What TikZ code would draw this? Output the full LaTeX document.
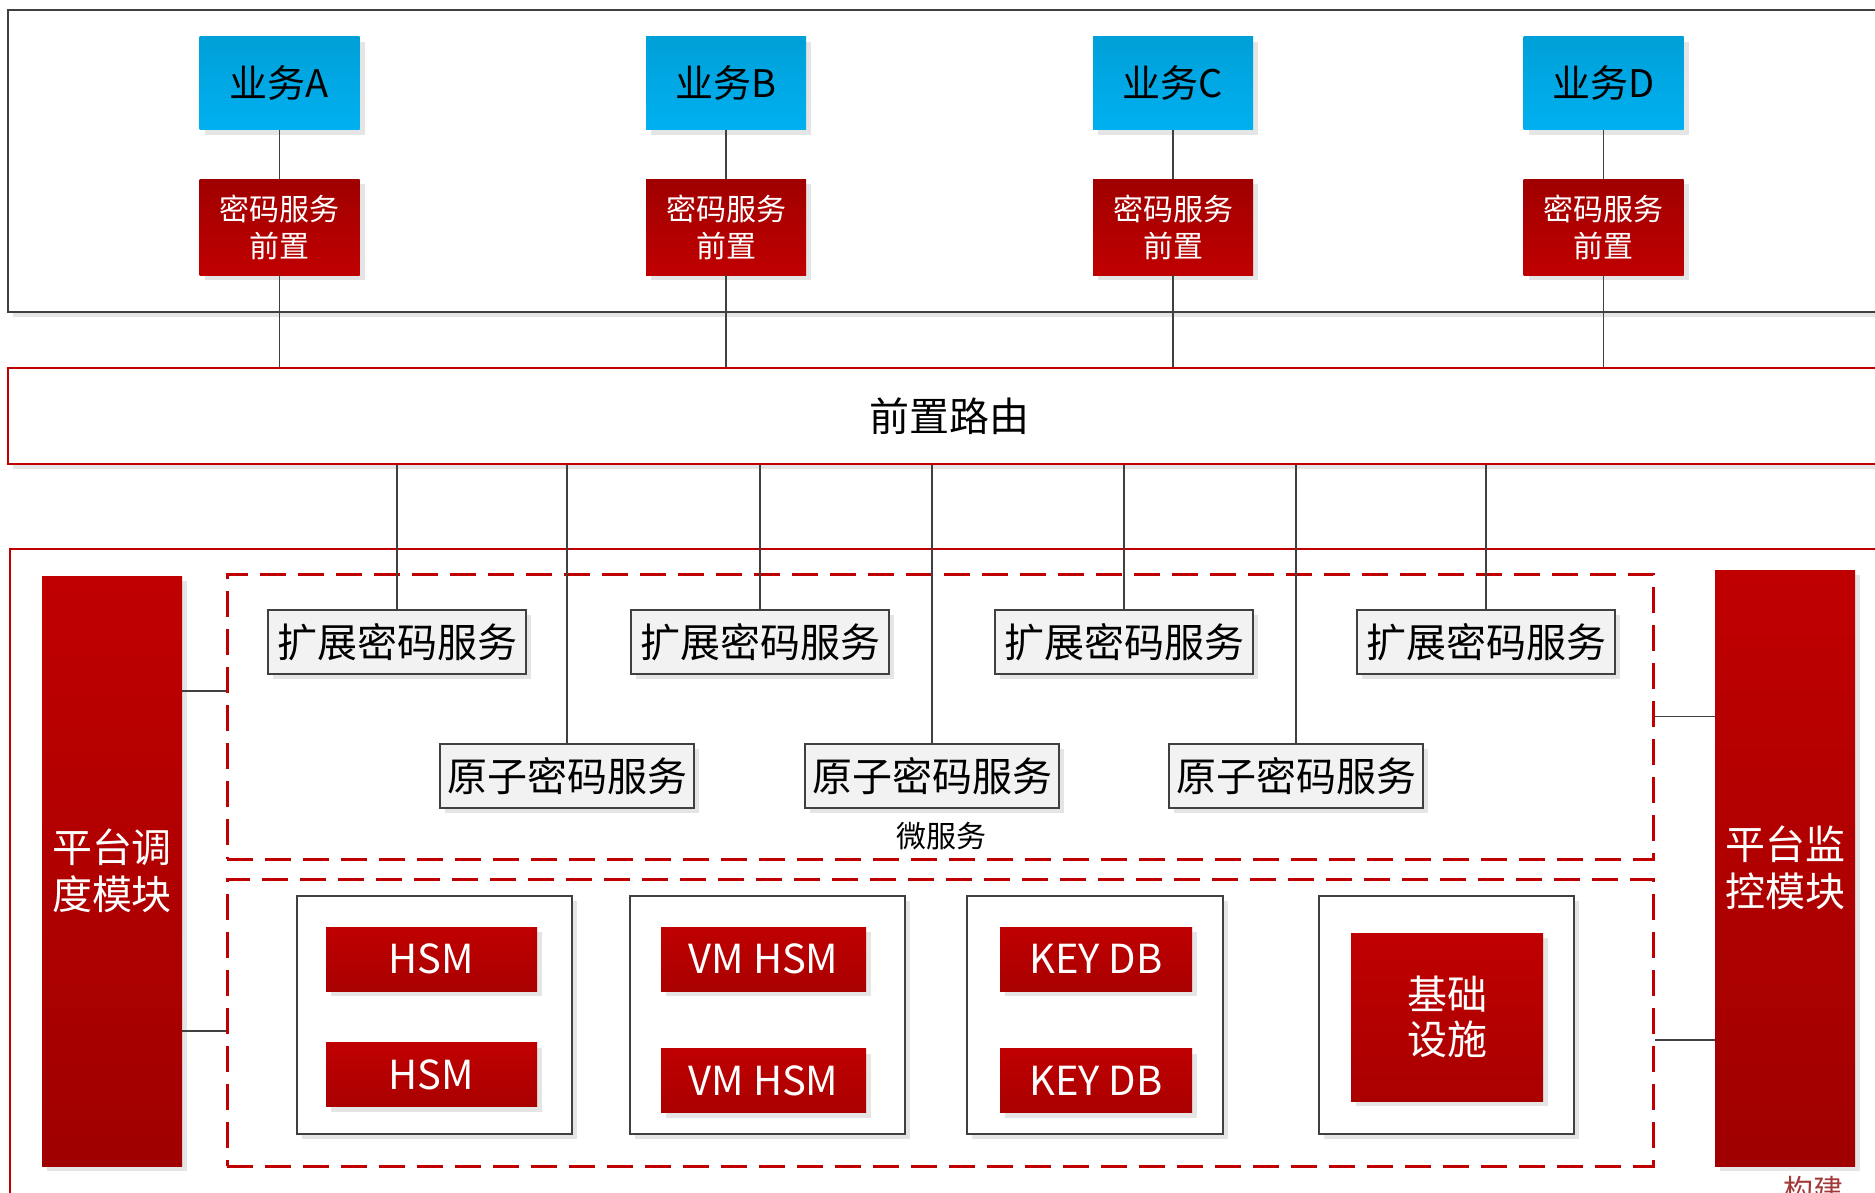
\documentclass[tikz,border=0pt]{standalone}
\usepackage{fontspec}
\setmainfont{Noto Sans CJK SC}
\usetikzlibrary{shadows}
\definecolor{rosso}{HTML}{C00000}
\definecolor{rossoscuro}{HTML}{A00000}
\definecolor{azzurro}{HTML}{00B0F0}
\definecolor{azzurroscuro}{HTML}{00A0D8}
\definecolor{grigio}{HTML}{404040}
\definecolor{grigiochiaro}{HTML}{F2F2F2}
\definecolor{marrone}{HTML}{A33A3A}
\begin{document}
\begin{tikzpicture}[x=1pt,y=-1pt,
    ombra/.style={drop shadow={shadow xshift=5pt,shadow yshift=-5pt,fill=black!10,opacity=1}},
    filo/.style={draw=grigio,line width=1.8pt},
    fascia/.style={draw=grigio,line width=1.5pt,fill=white,ombra,inner sep=0pt},
    cornice/.style={draw=rosso,line width=2.2pt,fill=white,ombra,inner sep=0pt},
    tratteggio/.style={draw=rosso,line width=3pt,dash pattern=on 26pt off 12pt,inner sep=0pt},
    yewu/.style={ombra,top color=azzurroscuro,bottom color=azzurro,minimum width=160pt,minimum height=93pt,inner sep=0pt,font=\fontsize{38}{44}\selectfont},
    qianzhi/.style={ombra,top color=rossoscuro,bottom color=rosso,text=white,minimum width=160pt,minimum height=96pt,inner sep=0pt,align=center,font=\fontsize{30}{37}\selectfont},
    servizio/.style={ombra,draw=grigio,line width=1.5pt,fill=grigiochiaro,minimum height=64pt,inner sep=0pt,font=\fontsize{40}{44}\selectfont},
    modulo/.style={ombra,top color=rosso,bottom color=rossoscuro,text=white,minimum width=140pt,inner sep=0pt,align=center,font=\fontsize{40}{47}\selectfont},
    cassa/.style={ombra,draw=grigio,line width=1.8pt,fill=white,minimum height=238pt,inner sep=0pt},
    hsm/.style={ombra,top color=rosso,bottom color=rosso!88!black,text=white,minimum height=64pt,inner sep=0pt,align=center,font=\fontsize{40}{45}\selectfont}]
    \useasboundingbox (0,0) rectangle (1875,1192);
    \clip (0,0) rectangle (1875,1192);
    \fill[white] (0,0) rectangle (1875,1192);

    % riquadri grandi
    \node[fascia,minimum width=1882pt,minimum height=302pt] (sopra) at (949,161) {};
    \node[cornice,minimum width=1882pt,minimum height=96pt,font=\fontsize{40}{44}\selectfont] (lu) at (949,416) {前置路由};
    \node[cornice,minimum width=1880pt,minimum height=661pt] (pt) at (950,879.5) {};

    %业务 e 前置
    \node[yewu] (ywA) at (279.5,83) {业务A};
    \node[yewu] (ywB) at (726,83) {业务B};
    \node[yewu] (ywC) at (1173,83) {业务C};
    \node[yewu] (ywD) at (1603.5,83) {业务D};
    \node[qianzhi] (qzA) at (279.5,227) {密码服务\\前置};
    \node[qianzhi] (qzB) at (726,227) {密码服务\\前置};
    \node[qianzhi] (qzC) at (1173,227) {密码服务\\前置};
    \node[qianzhi] (qzD) at (1603.5,227) {密码服务\\前置};
    \draw[filo] (ywA) -- (qzA);
    \draw[filo] (ywB) -- (qzB);
    \draw[filo] (ywC) -- (qzC);
    \draw[filo] (ywD) -- (qzD);
    \draw[filo] (qzA) -- (qzA |- lu.north);
    \draw[filo] (qzB) -- (qzB |- lu.north);
    \draw[filo] (qzC) -- (qzC |- lu.north);
    \draw[filo] (qzD) -- (qzD |- lu.north);

    % moduli laterali e zone tratteggiate
    \node[modulo,minimum height=590pt] (dd) at (112,871) {平台调\\度模块};
    \node[modulo,minimum height=596pt] (jk) at (1785,868) {平台监\\控模块};
    \node[tratteggio,minimum width=1426pt,minimum height=285pt] (wfw) at (940,716.5) {};
    \node[tratteggio,minimum width=1426pt,minimum height=287pt] (jc) at (940,1022.5) {};
    \node[font=\fontsize{30}{34}\selectfont] (wfwlab) at (941,836) {微服务};

    % microservizi
    \node[servizio,minimum width=258pt] (kz1) at (397,642) {扩展密码服务};
    \node[servizio,minimum width=258pt] (kz2) at (760,642) {扩展密码服务};
    \node[servizio,minimum width=258pt] (kz3) at (1124,642) {扩展密码服务};
    \node[servizio,minimum width=258pt] (kz4) at (1486,642) {扩展密码服务};
    \node[servizio,minimum width=254pt] (yz1) at (567,776) {原子密码服务};
    \node[servizio,minimum width=254pt] (yz2) at (932,776) {原子密码服务};
    \node[servizio,minimum width=254pt] (yz3) at (1296,776) {原子密码服务};
    \draw[filo] (kz1 |- lu.south) -- (kz1);
    \draw[filo] (yz1 |- lu.south) -- (yz1);
    \draw[filo] (kz2 |- lu.south) -- (kz2);
    \draw[filo] (yz2 |- lu.south) -- (yz2);
    \draw[filo] (kz3 |- lu.south) -- (kz3);
    \draw[filo] (yz3 |- lu.south) -- (yz3);
    \draw[filo] (kz4 |- lu.south) -- (kz4);

    % infrastruttura
    \node[cassa,minimum width=275pt] (c1) at (434.5,1015) {};
    \node[cassa,minimum width=275pt] (c2) at (767.5,1015) {};
    \node[cassa,minimum width=256pt] (c3) at (1095,1015) {};
    \node[cassa,minimum width=255pt] (c4) at (1446.5,1015) {};
    \node[hsm,minimum width=211pt] (hsm1) at (431.5,959) {HSM};
    \node[hsm,minimum width=211pt] (hsm2) at (431.5,1074.5) {HSM};
    \node[hsm,minimum width=205pt] (vm1) at (763.5,959) {VM HSM};
    \node[hsm,minimum width=205pt] (vm2) at (763.5,1080.5) {VM HSM};
    \node[hsm,minimum width=192pt] (db1) at (1096,959) {KEY DB};
    \node[hsm,minimum width=192pt] (db2) at (1096,1080.5) {KEY DB};
    \node[hsm,minimum width=192pt,minimum height=168pt] (jcss) at (1447,1017) {基础\\设施};

    % collegamenti laterali
    \coordinate (y1) at (0,691);
    \coordinate (y2) at (0,1031);
    \coordinate (y3) at (0,1040);
    \draw[filo] (dd.east |- y1) -- (wfw.west |- y1);
    \draw[filo] (dd.east |- y2) -- (jc.west |- y2);
    \draw[filo] (jk.west |- wfw.east) -- (wfw.east);
    \draw[filo] (jk.west |- y3) -- (jc.east |- y3);

    % scritta tagliata in basso
    \node[anchor=north west,inner sep=0pt,text=marrone,font=\fontsize{30}{34}\selectfont] (gj) at (1783,1176) {构建};
\end{tikzpicture}
\end{document}
